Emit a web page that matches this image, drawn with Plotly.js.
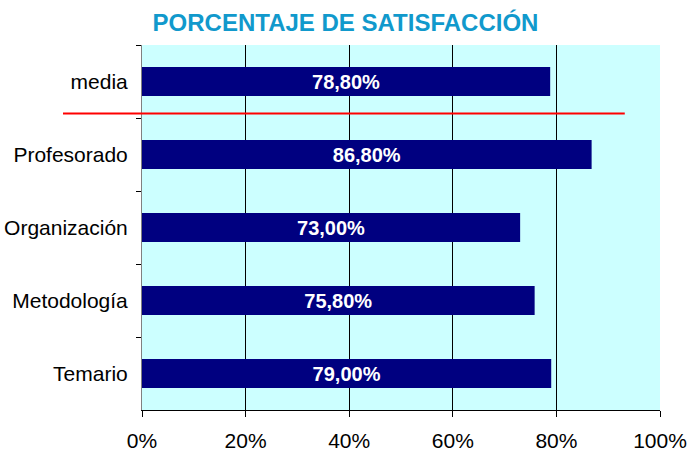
<!DOCTYPE html>
<html><head><meta charset="utf-8">
<script src="https://cdn.plot.ly/plotly-3.0.1.min.js"></script>
<style>html,body{margin:0;padding:0;background:#fff}</style>
</head><body>
<div id="chart" style="width:691px;height:454px"></div>
<script>
const categories = ['media', 'Profesorado', 'Organización', 'Metodología', 'Temario'];
const satisfaction = [0.788, 0.868, 0.730, 0.758, 0.790];
const xTicks = [0, 0.2, 0.4, 0.6, 0.8, 1.0];

const trace = {
  type: 'bar', orientation: 'h',
  x: satisfaction, y: categories,
  marker: {color: '#000080'},
  width: 0.40,
  texttemplate: '%{x:.2%}',
  textposition: 'inside', insidetextanchor: 'middle',
  textfont: {family: 'Liberation Sans, Arial, sans-serif', size: 20, color: '#ffffff', weight: 'bold'},
  hoverinfo: 'skip'
};

const layout = {
  width: 691, height: 454,
  margin: {l: 142, r: 31, t: 45, b: 44},
  paper_bgcolor: '#ffffff', plot_bgcolor: '#CCFFFF',
  separators: ',.',
  showlegend: false,
  title: {text: '<b>PORCENTAJE DE SATISFACCIÓN</b>', x: 0.5, xref: 'container', xanchor: 'center',
          y: 0.95, yref: 'container', yanchor: 'middle',
          font: {family: 'Liberation Sans, Arial, sans-serif', size: 24, color: '#1199CC'}},
  xaxis: {range: [0, 1], tickvals: xTicks, tickformat: '.0%', showgrid: true, gridcolor: '#000000', gridwidth: 1,
          zeroline: false, showline: true, linecolor: '#000000', linewidth: 1,
          ticks: 'outside', ticklen: 6, tickcolor: '#000000', ticklabelstandoff: 6,
          tickfont: {family: 'Liberation Sans, Arial, sans-serif', size: 21, color: '#000000'}, fixedrange: true},
  yaxis: {autorange: 'reversed', type: 'category', showgrid: false, zeroline: false,
          showline: true, linecolor: '#808080', linewidth: 1,
          ticks: 'outside', tickson: 'boundaries', ticklen: 5, tickcolor: '#000000', ticklabelstandoff: 9,
          tickfont: {family: 'Liberation Sans, Arial, sans-serif', size: 21, color: '#000000'}, fixedrange: true},
  shapes: [{type: 'line', xref: 'paper', yref: 'paper', x0: -0.1525, x1: 0.932, y0: 0.812, y1: 0.812,
            line: {color: '#FF0000', width: 2}}]
};

Plotly.newPlot('chart', [trace], layout, {displayModeBar: false, staticPlot: true});
</script>
</body></html>
